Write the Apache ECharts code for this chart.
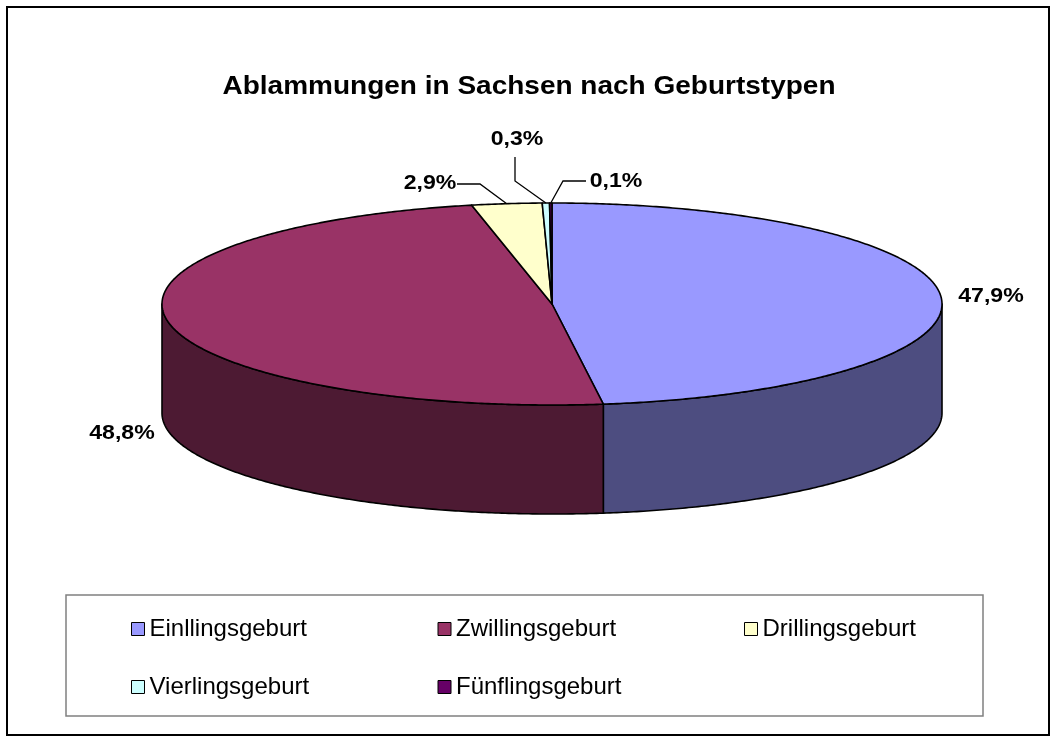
<!DOCTYPE html>
<html>
<head>
<meta charset="utf-8">
<script src="https://cdn.jsdelivr.net/npm/echarts@6/dist/echarts.min.js"></script>
<style>
  html, body { margin: 0; padding: 0; background: #fff; }
  #chart { width: 1056px; height: 743px; }
</style>
</head>
<body>
<div id="chart"></div>
<script>
// data
const categories = ["Einllingsgeburt", "Zwillingsgeburt", "Drillingsgeburt", "Vierlingsgeburt", "Fünflingsgeburt"];
const shares = [47.9, 48.8, 2.9, 0.3, 0.1];

const topColors = ["#9999FF", "#993366", "#FFFFCC", "#CCFFFF", "#660066"];
const sideColors = ["#4D4D80", "#4D1A33", "#808066", "#668080", "#330033"];

// layout of the tilted pie
const CX = 552, CY = 304, RX = 390, RY = 101, DEPTH = 109;
const FONT = "Liberation Sans, Arial, sans-serif";
const SX = 1.1; // text in the picture is a bit wide

// label centres and leader elbows (layout only)
const labelPos = [[991, 296], [122, 433], [430, 183], [517, 139], [616, 181]];
const leaders = [null, null, [[457, 184], [480, 184]], [[515, 157], [515, 181]], [[586, 181], [563, 181]]];

const total = shares.reduce((a, b) => a + b, 0);
const starts = [];
shares.reduce((acc, v, i) => { starts[i] = acc; return acc + v; }, 0);

function pt(deg, dy) {
  const r = deg * Math.PI / 180;
  return [CX + RX * Math.sin(r), CY - RY * Math.cos(r) + (dy || 0)];
}

function arc(a0, a1, dy) {
  const n = Math.max(2, Math.ceil((a1 - a0) / 0.5));
  const out = [];
  for (let k = 0; k <= n; k++) out.push(pt(a0 + (a1 - a0) * k / n, dy));
  return out;
}

function makeRender(i) {
  return function (params, api) {
    const v = api.value(0), s = api.value(1);
    const a0 = s / total * 360, a1 = (s + v) / total * 360;
    const children = [];

    // front wall
    const ws = Math.max(a0, 90), we = Math.min(a1, 270);
    if (we > ws) {
      const upper = arc(ws, we, 0);
      const lower = arc(ws, we, DEPTH).reverse();
      children.push({
        type: "polygon",
        shape: { points: upper.concat(lower) },
        style: { fill: sideColors[i], stroke: "#000", lineWidth: 1.6, lineJoin: "round" }
      });
    }

    // top face
    children.push({
      type: "polygon",
      shape: { points: [[CX, CY]].concat(arc(a0, a1, 0)) },
      style: { fill: topColors[i], stroke: "#000", lineWidth: 1.6, lineJoin: "round" }
    });

    // leader line
    if (leaders[i]) {
      const end = pt((a0 + a1) / 2, 0);
      children.push({
        type: "polyline",
        shape: { points: leaders[i].concat([end]) },
        style: { fill: null, stroke: "#000", lineWidth: 1.3 },
        z2: 10
      });
    }

    // value label
    children.push({
      type: "text",
      x: labelPos[i][0],
      y: labelPos[i][1],
      scaleX: SX,
      z2: 10,
      style: {
        text: v.toFixed(1).replace(".", ",") + "%",
        x: 0, y: 0,
        font: "bold 21px " + FONT,
        fill: "#000",
        align: "center", verticalAlign: "middle",
        textAlign: "center", textVerticalAlign: "middle"
      }
    });

    return { type: "group", children: children };
  };
}

const chart = echarts.init(document.getElementById("chart"));

const option = {
  animation: false,
  backgroundColor: "#fff",
  legend: {
    data: categories,
    left: 126,
    top: 612,
    width: 930,
    itemWidth: 13,
    itemHeight: 13,
    itemGap: 34,
    icon: "rect",
    selectedMode: false,
    itemStyle: { borderColor: "#000", borderWidth: 1 },
    textStyle: {
      fontFamily: FONT,
      fontSize: 24,
      color: "#000",
      width: 254,
      lineHeight: 24,
      padding: [0, 0, 0, 0]
    }
  },
  graphic: [
    {
      type: "rect",
      shape: { x: 7, y: 7, width: 1042, height: 728 },
      style: { fill: null, stroke: "#000", lineWidth: 2 },
      z: -10
    },
    {
      type: "rect",
      shape: { x: 66, y: 595, width: 917, height: 121 },
      style: { fill: null, stroke: "#808080", lineWidth: 1.5 },
      z: -10
    },
    {
      type: "text",
      x: 529,
      y: 87,
      scaleX: 1.12,
      style: {
        text: "Ablammungen in Sachsen nach Geburtstypen",
        x: 0, y: 0,
        font: "bold 25px " + FONT,
        fill: "#000",
        textAlign: "center",
        textVerticalAlign: "middle"
      }
    }
  ],
  series: categories.map((name, i) => ({
    type: "custom",
    name: name,
    coordinateSystem: "none",
    itemStyle: { color: topColors[i] },
    silent: true,
    data: [[shares[i], starts[i]]],
    renderItem: makeRender(i)
  }))
};

chart.setOption(option);
</script>
</body>
</html>
